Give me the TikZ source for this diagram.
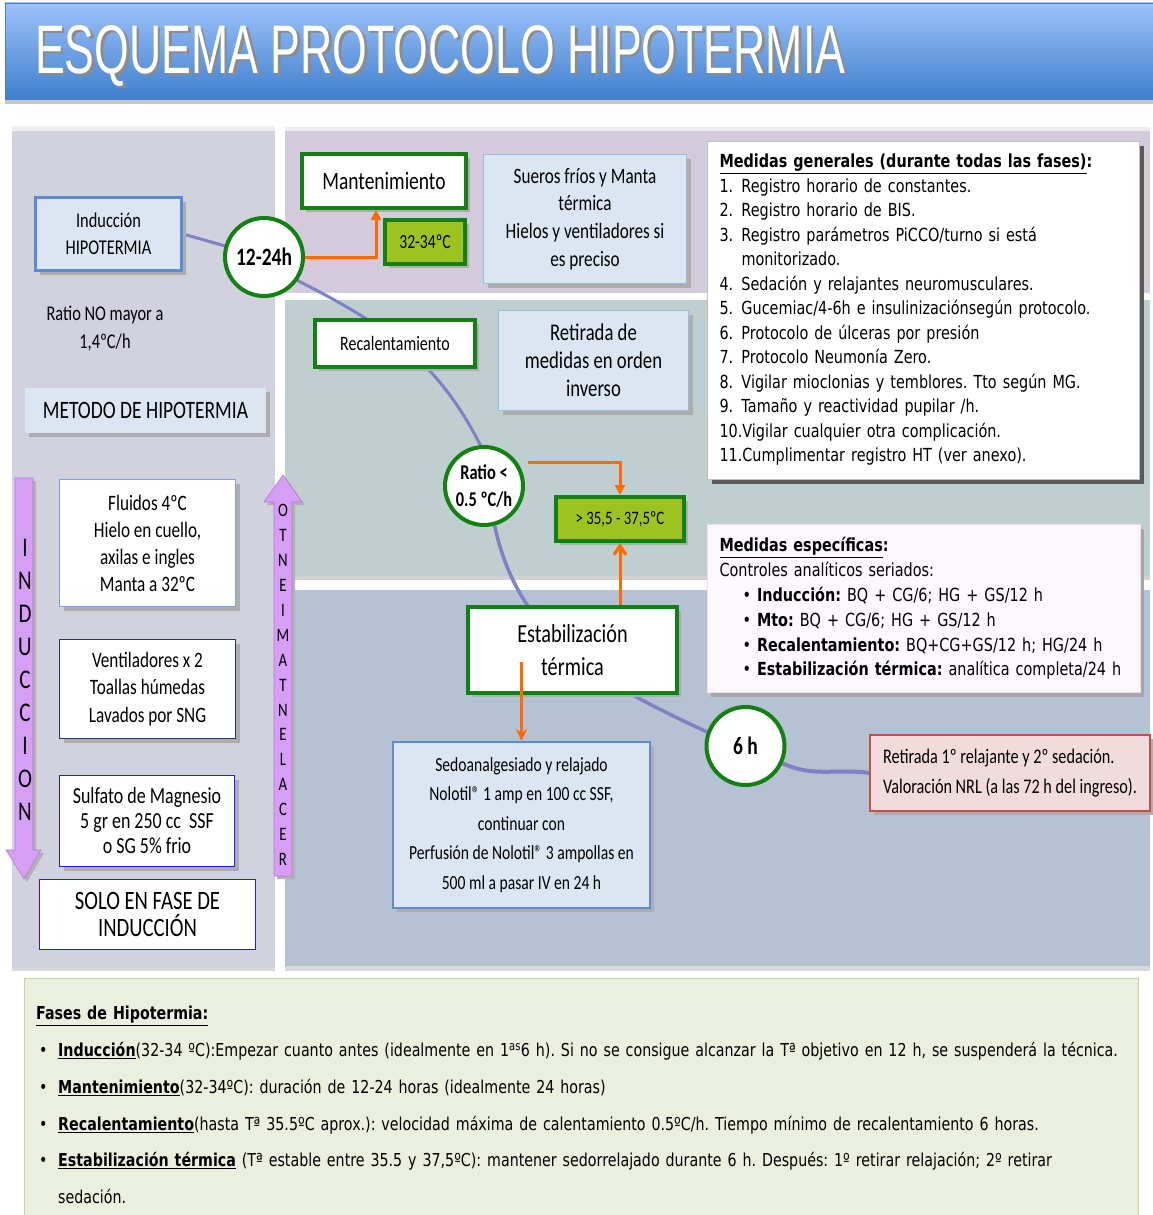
\documentclass[tikz,border=0pt]{standalone}
\usepackage{fontspec}
\setmainfont[FakeStretch=0.78]{Carlito}
\newfontfamily\tahoma[FakeStretch=0.8]{DejaVu Sans}
\newfontfamily\arialfont{Liberation Sans}
\usetikzlibrary{shadows,arrows.meta}

\definecolor{ggreen}{RGB}{18,128,18}
\definecolor{limefill}{RGB}{157,195,33}
\definecolor{lblue}{RGB}{220,230,242}
\definecolor{lbluedraw}{RGB}{155,185,225}
\definecolor{bborder}{RGB}{91,139,213}
\definecolor{warmcol}{RGB}{255,106,0}
\definecolor{trackcol}{RGB}{128,128,196}
\definecolor{lilac}{RGB}{215,158,246}
\definecolor{lilacdraw}{RGB}{180,120,215}
\definecolor{pinkfill}{RGB}{242,220,219}
\definecolor{reddraw}{RGB}{192,80,77}
\definecolor{leftband}{RGB}{209,210,222}
\definecolor{topband}{RGB}{211,202,219}
\definecolor{midband}{RGB}{191,207,207}
\definecolor{lowband}{RGB}{180,194,211}
\definecolor{phasefill}{RGB}{235,239,222}
\definecolor{phasedraw}{RGB}{195,214,155}
\definecolor{titletop}{RGB}{157,194,250}
\definecolor{titlebot}{RGB}{63,127,205}
\definecolor{navydraw}{RGB}{31,58,96}
\definecolor{deepblue}{RGB}{30,30,230}

\pgfdeclarelayer{bands}
\pgfdeclarelayer{curves}
\pgfsetlayers{bands,curves,main}

\newcommand\fsz[2]{\fontsize{#1}{#2}\selectfont}

\begin{document}
\frenchspacing
\begin{tikzpicture}[x=1pt,y=1pt,
  shade box/.style={drop shadow={shadow xshift=4pt,shadow yshift=-4pt,fill=black!32,opacity=1}},
  greenbox/.style={shade box,draw=ggreen,line width=4pt,fill=white,inner sep=0pt,align=center},
  limebox/.style={greenbox,fill=limefill},
  bluebox/.style={shade box,draw=lbluedraw,line width=1.5pt,fill=lblue,inner sep=0pt,align=center},
  whitebox/.style={shade box,fill=white,line width=1.3pt,inner sep=0pt,align=center},
  timer/.style={circle,draw=ggreen,line width=4pt,fill=white,minimum size=78pt,inner sep=0pt,align=center,font=\bfseries\fsz{25}{28}},
  warmline/.style={draw=warmcol,line width=3pt,-{Triangle[length=10pt,width=10pt]}},
  trackline/.style={draw=trackcol,line width=3pt},
  vtext/.style={inner sep=0pt,align=center}
]
\useasboundingbox (0,0) rectangle (1153,-1215);

% backgrounds
\begin{pgfonlayer}{bands}
\shade[top color=titletop, bottom color=titlebot, draw=titlebot] (5,-3) rectangle (1153,-100);
\fill[black!22] (5,-100) rectangle (1153,-104);
\fill[leftband!40!white] (12,-126) rectangle (275,-131);
\fill[leftband] (12,-131) rectangle (275,-968);
\fill[topband!35!white] (285,-127) rectangle (1150,-131);
\fill[topband] (285,-131) rectangle (1150,-293);
\fill[midband] (285,-300) rectangle (1150,-576);
\fill[black!18] (285,-576) rectangle (1150,-580);
\fill[lowband] (285,-590) rectangle (1150,-966);
\fill[black!15] (285,-966) rectangle (1150,-971);
\fill[black!15] (12,-968) rectangle (275,-971);
\filldraw[fill=phasefill, draw=phasedraw, line width=1pt] (24,-978) rectangle (1138,-1225);
\end{pgfonlayer}

\node[anchor=base west, inner sep=0pt, text=black!45] (titleshade) at (37.5,-75.5) {\resizebox{810pt}{48pt}{\arialfont ESQUEMA PROTOCOLO HIPOTERMIA}};
\node[anchor=base west, inner sep=0pt, text=white] (title) at (35,-73) {\resizebox{810pt}{48pt}{\arialfont ESQUEMA PROTOCOLO HIPOTERMIA}};

% left column
\node[shade box, fill=lblue, draw=bborder, line width=3pt, minimum width=146pt, minimum height=73pt, inner sep=0pt, align=center, font=\fsz{21}{27}] (induc) at (108.5,-234) {Inducción\\HIPOTERMIA};
\node[vtext, font=\fsz{21}{28}] (ratenote) at (105,-329) {Ratio NO mayor a\\1,4ºC/h};
\node[shade box, fill=lblue, minimum width=241pt, minimum height=45pt, inner sep=0pt, font=\fsz{25}{28}] (metodo) at (145.5,-410.5) {METODO DE HIPOTERMIA};

\filldraw[fill=lilac, draw=lilacdraw, line width=0.6pt, drop shadow={shadow xshift=3pt,shadow yshift=-3pt,fill=black!30,opacity=1}] (15,-478) -- (33,-478) -- (33,-850) -- (41,-850) -- (24,-879) -- (6,-850) -- (15,-850) -- cycle;
\node[vtext, font=\fsz{27}{33}] (induclabel) at (25,-680) {I\\N\\D\\U\\C\\C\\I\\O\\N};
\filldraw[fill=lilac, draw=lilacdraw, line width=0.6pt, drop shadow={shadow xshift=3pt,shadow yshift=-3pt,fill=black!30,opacity=1}] (274,-876) -- (292,-876) -- (292,-502) -- (302,-502) -- (283,-475) -- (264,-502) -- (274,-502) -- cycle;
\node[vtext, font=\fsz{19}{24.9}] (recallabel) at (283,-685) {O\\T\\N\\E\\I\\M\\A\\T\\N\\E\\L\\A\\C\\E\\R};

\node[whitebox, draw=bborder!80, minimum width=176pt, minimum height=127pt, font=\fsz{22}{27}] (fluidos) at (147.5,-543) {Fluidos 4ºC\\Hielo en cuello,\\axilas e ingles\\Manta a 32ºC};
\node[whitebox, draw=navydraw, minimum width=176pt, minimum height=99pt, font=\fsz{22}{27.5}] (vent) at (147.5,-689) {Ventiladores x 2\\Toallas húmedas\\Lavados por SNG};
\node[whitebox, draw=deepblue, line width=1.5pt, minimum width=175pt, minimum height=91pt, font=\fsz{23}{25}] (sulfato) at (147,-821) {Sulfato de Magnesio\\5 gr en 250 cc\ \ SSF\\o SG 5\% frio};
\node[fill=white, draw=deepblue, line width=1.5pt, minimum width=216pt, minimum height=70pt, inner sep=0pt, align=center, font=\fsz{26.5}{27}] (solo) at (147.5,-914.5) {SOLO EN FASE DE\\INDUCCIÓN};

% phases
\node[timer] (c1224) at (264,-257) {12-24h};
\node[greenbox, minimum width=164pt, minimum height=54pt, font=\fsz{25}{28}] (mant) at (384,-181) {Mantenimiento};
\node[limebox, minimum width=80pt, minimum height=44pt, font=\fsz{20}{24}] (lowt) at (425,-242) {32-34ºC};
\node[bluebox, minimum width=203pt, minimum height=129pt, font=\fsz{22}{27.7}] (sueros) at (585,-219) {Sueros fríos y Manta\\térmica\\Hielos y ventiladores si\\es preciso};
\node[greenbox, minimum width=160pt, minimum height=47pt, font=\fsz{20.5}{24}] (recal) at (395,-343.5) {Recalentamiento};
\node[bluebox, minimum width=190pt, minimum height=100pt, font=\fsz{24}{28}] (retiro) at (593.5,-360.5) {Retirada de\\medidas en orden\\inverso};
\node[timer, font=\bfseries\fsz{21}{27}] (ratio) at (484,-486) {Ratio <\\0.5 ºC/h};
\node[limebox, minimum width=128pt, minimum height=44pt, font=\fsz{19}{22}] (normt) at (620,-519) {> 35,5 - 37,5ºC};
\node[greenbox, minimum width=209pt, minimum height=86pt, font=\fsz{26}{33}] (estab) at (572.5,-650) {Estabilización\\térmica};
\node[bluebox, draw=bborder, line width=2pt, minimum width=257pt, minimum height=166pt, font=\fsz{20}{29.5}] (sedo) at (521.5,-825) {Sedoanalgesiado y relajado\\Nolotil® 1 amp en 100 cc SSF,\\continuar con\\Perfusión de Nolotil® 3 ampollas en\\500 ml a pasar IV en 24 h};
\node[timer] (sixh) at (745.5,-746) {6 h};
\node[shade box, fill=pinkfill, draw=reddraw, line width=1.5pt, minimum width=280pt, minimum height=76pt, inner sep=0pt, align=left, font=\fsz{20.8}{30}] (retir) at (1010,-773) {Retirada 1º relajante y 2º sedación.\\Valoración NRL (a las 72 h del ingreso).};

% curve
\begin{pgfonlayer}{curves}
\draw[trackline] (induc.east) -- (c1224);
\draw[trackline] (c1224.-35) to[out=-27,in=117] (ratio.95);
\draw[trackline, line width=3.5pt] (ratio.-75) to[out=-78,in=155] (sixh.160);
\draw[trackline, line width=4pt] (sixh.-25) to[out=-25,in=172] (retir.west);
\end{pgfonlayer}

\draw[warmline] (c1224.east) -| ([xshift=-8pt]mant.south);
\draw[warmline] ([xshift=10pt]ratio.35) -| (normt.north);
\draw[warmline, -{Straight Barb[length=9pt,width=12pt]}] (estab.north -| normt.south) -- (normt.south);
\draw[warmline, -{Stealth[length=12pt,width=11pt]}] ([yshift=-12pt]sedo.north |- estab.center) -- (sedo.north);

% text panels
\node[draw=black!25, line width=0.8pt, fill=white, minimum height=338pt, text width=407pt, inner xsep=12.5pt, inner ysep=0pt, align=left, font=\tahoma\fsz{18}{24.5}, drop shadow={shadow xshift=5pt,shadow yshift=-5pt,fill=black!65,opacity=1}] (general) at (923,-310) {\underline{\textbf{Medidas generales (durante todas las fases)}}\textbf{:}\\
\makebox[22pt][l]{1.}Registro horario de constantes.\\
\makebox[22pt][l]{2.}Registro horario de BIS.\\
\makebox[22pt][l]{3.}Registro parámetros PiCCO/turno si está\\
\hspace*{22pt}monitorizado.\\
\makebox[22pt][l]{4.}Sedación y relajantes neuromusculares.\\
\makebox[22pt][l]{5.}Gucemiac/4-6h e insulinizaciónsegún protocolo.\\
\makebox[22pt][l]{6.}Protocolo de úlceras por presión\\
\makebox[22pt][l]{7.}Protocolo Neumonía Zero.\\
\makebox[22pt][l]{8.}Vigilar mioclonias y temblores. Tto según MG.\\
\makebox[22pt][l]{9.}Tamaño y reactividad pupilar /h.\\
10.Vigilar cualquier otra complicación.\\
11.Cumplimentar registro HT (ver anexo).};

\node[draw=lilacdraw!25, line width=1pt, fill=white!93!lilac, minimum height=168pt, text width=408pt, inner xsep=12.5pt, inner ysep=0pt, align=left, font=\tahoma\fsz{18}{24.8}, drop shadow={shadow xshift=4pt,shadow yshift=-4pt,fill=black!35,opacity=1}] (specific) at (923.5,-608.5) {\underline{\textbf{Medidas específicas}}\textbf{:}\\
Controles analíticos seriados:\\
\hspace*{23pt}• \textbf{Inducción:} BQ + CG/6; HG + GS/12 h\\
\hspace*{23pt}• \textbf{Mto:} BQ + CG/6; HG + GS/12 h\\
\hspace*{23pt}• \textbf{Recalentamiento:} BQ+CG+GS/12 h; HG/24 h\\
\hspace*{23pt}• \textbf{Estabilización térmica:} analítica completa/24 h};

\node[anchor=north west, inner sep=0pt, text width=1110pt, align=left, font=\tahoma\fsz{17.8}{36.8}] (phases) at (36,-1006) {\underline{\textbf{Fases de Hipotermia:}}\\
\makebox[22pt][l]{\hspace{3pt}•}\underline{\textbf{Inducción}}(32-34 ºC):Empezar cuanto antes (idealmente en 1\textsuperscript{as}6 h). Si no se consigue alcanzar la Tª objetivo en 12 h, se suspenderá la técnica.\\
\makebox[22pt][l]{\hspace{3pt}•}\underline{\textbf{Mantenimiento}}(32-34ºC): duración de 12-24 horas (idealmente 24 horas)\\
\makebox[22pt][l]{\hspace{3pt}•}\underline{\textbf{Recalentamiento}}(hasta Tª 35.5ºC aprox.): velocidad máxima de calentamiento 0.5ºC/h. Tiempo mínimo de recalentamiento 6 horas.\\
\makebox[22pt][l]{\hspace{3pt}•}\underline{\textbf{Estabilización térmica}} (Tª estable entre 35.5 y 37,5ºC): mantener sedorrelajado durante 6 h. Después: 1º retirar relajación; 2º retirar\\
\hspace*{22pt}sedación.};

\end{tikzpicture}
\end{document}
